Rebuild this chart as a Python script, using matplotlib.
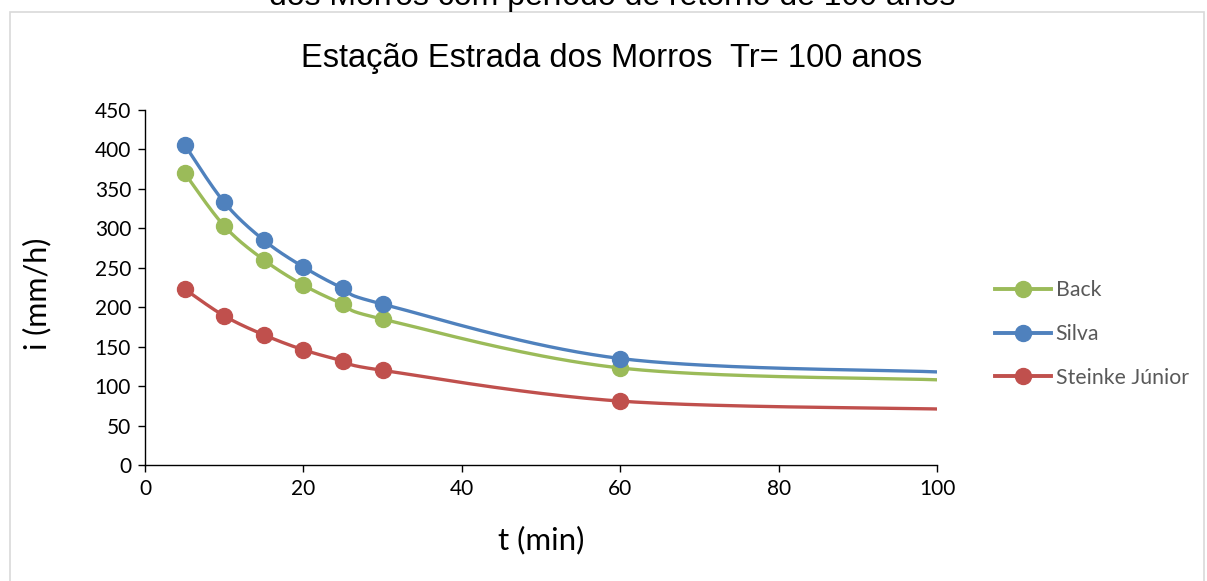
import numpy as np
import matplotlib
matplotlib.use("Agg")
import matplotlib.pyplot as plt
from matplotlib.lines import Line2D
from matplotlib.patches import Rectangle

# ---- data ----
t_min = [5, 10, 15, 20, 25, 30, 60]
back = [370, 303, 260, 228, 204, 185, 123]
silva = [406, 333, 285, 251, 224, 204, 135]
steinke = [223, 189, 165, 146, 132, 120, 81]
# visible end of each smoothed curve at the right edge of the axis (t = 100)
t_end = 100
back_end = 108
silva_end = 118
steinke_end = 71

series_names = ["Back", "Silva", "Steinke Júnior"]
colors = ["#9BBB59", "#4F81BD", "#C0504D"]

title = "Estação Estrada dos Morros  Tr= 100 anos"
top_cut_text = "dos Morros com período de retorno de 100 anos"
xticks = [0, 20, 40, 60, 80, 100]
yticks = [0, 50, 100, 150, 200, 250, 300, 350, 400, 450]


def excel_smooth(x, y, n=40):
    """Excel-style smoothed line: cubic Bezier with Catmull-Rom tangents."""
    P = np.column_stack([x, y]).astype(float)
    Pe = np.vstack([P[0], P, P[-1]])
    out = []
    for i in range(len(P) - 1):
        p0, p1, p2, p3 = Pe[i], Pe[i + 1], Pe[i + 2], Pe[i + 3]
        c1 = p1 + (p2 - p0) / 6.0
        c2 = p2 - (p3 - p1) / 6.0
        s = np.linspace(0, 1, n)[:, None]
        seg = ((1 - s) ** 3) * p1 + 3 * ((1 - s) ** 2) * s * c1 + 3 * (1 - s) * s ** 2 * c2 + s ** 3 * p2
        out.append(seg if i == 0 else seg[1:])
    pts = np.vstack(out)
    return pts[:, 0], pts[:, 1]


W, H = 1207, 581
fig = plt.figure(figsize=(W / 100, H / 100), dpi=100)
fig.patch.set_facecolor("white")

# outer chart frame (light gray)
fig.patches.append(Rectangle((10 / W, -0.01), 1194 / W, 1 - 12 / H + 0.01,
                             transform=fig.transFigure, fill=False,
                             edgecolor="#D9D9D9", linewidth=1.2))

# cut-off caption at the very top (partly outside the picture, as in the reference)
fig.text(612 / W, 1 - 5 / H, top_cut_text, ha="center", va="baseline",
         fontsize=23, family="Liberation Sans", color="#000000")

ax = fig.add_axes([145 / W, 1 - 465 / H, (937 - 145) / W, (465 - 110) / H])

all_series = [(back, back_end), (silva, silva_end), (steinke, steinke_end)]
for (vals, endv), name, col in zip(all_series, series_names, colors):
    xs, ys = excel_smooth(t_min + [t_end], vals + [endv])
    ax.plot(xs, ys, color=col, linewidth=2.4, solid_capstyle="round", zorder=2)
    ax.plot(t_min, vals, linestyle="none", marker="o", markersize=11.5,
            color=col, zorder=3)

ax.set_xlim(0, 100)
ax.set_ylim(0, 450)
ax.set_xticks(xticks)
ax.set_yticks(yticks)
ax.spines["top"].set_visible(False)
ax.spines["right"].set_visible(False)
for sp in ("left", "bottom"):
    ax.spines[sp].set_linewidth(1.0)
    ax.spines[sp].set_color("#000000")
ax.tick_params(direction="out", length=5, width=1.0, labelsize=15, pad=5)
for lab in ax.get_xticklabels() + ax.get_yticklabels():
    lab.set_family("Lato")

ax.set_xlabel("t (min)", fontsize=22.5, family="Lato")
ax.set_ylabel("i (mm/h)", fontsize=22, family="Lato")
ax.xaxis.set_label_coords(0.5, (465 - 540) / (465 - 110), transform=ax.transAxes)
ax.yaxis.set_label_coords((37 - 145) / (937 - 145), (465 - 294) / (465 - 110))
ax.xaxis.label.set_va("center")
ax.yaxis.label.set_va("center")

fig.text(612 / W, 1 - 58 / H, title, ha="center", va="center",
         fontsize=23.5, family="Liberation Sans")

handles = [Line2D([0], [0], color=c, linewidth=2.8, marker="o", markersize=11.5)
           for c in colors]
leg = fig.legend(handles, series_names, loc="center left",
                 bbox_to_anchor=(995 / W, 1 - 334 / H), frameon=False,
                 borderpad=0, borderaxespad=0,
                 handlelength=2.65, handletextpad=0.2, labelspacing=1.12,
                 prop={"family": "Lato", "size": 15.3})
for txt in leg.get_texts():
    txt.set_color("#595959")

fig.savefig("out.png", dpi=100)
